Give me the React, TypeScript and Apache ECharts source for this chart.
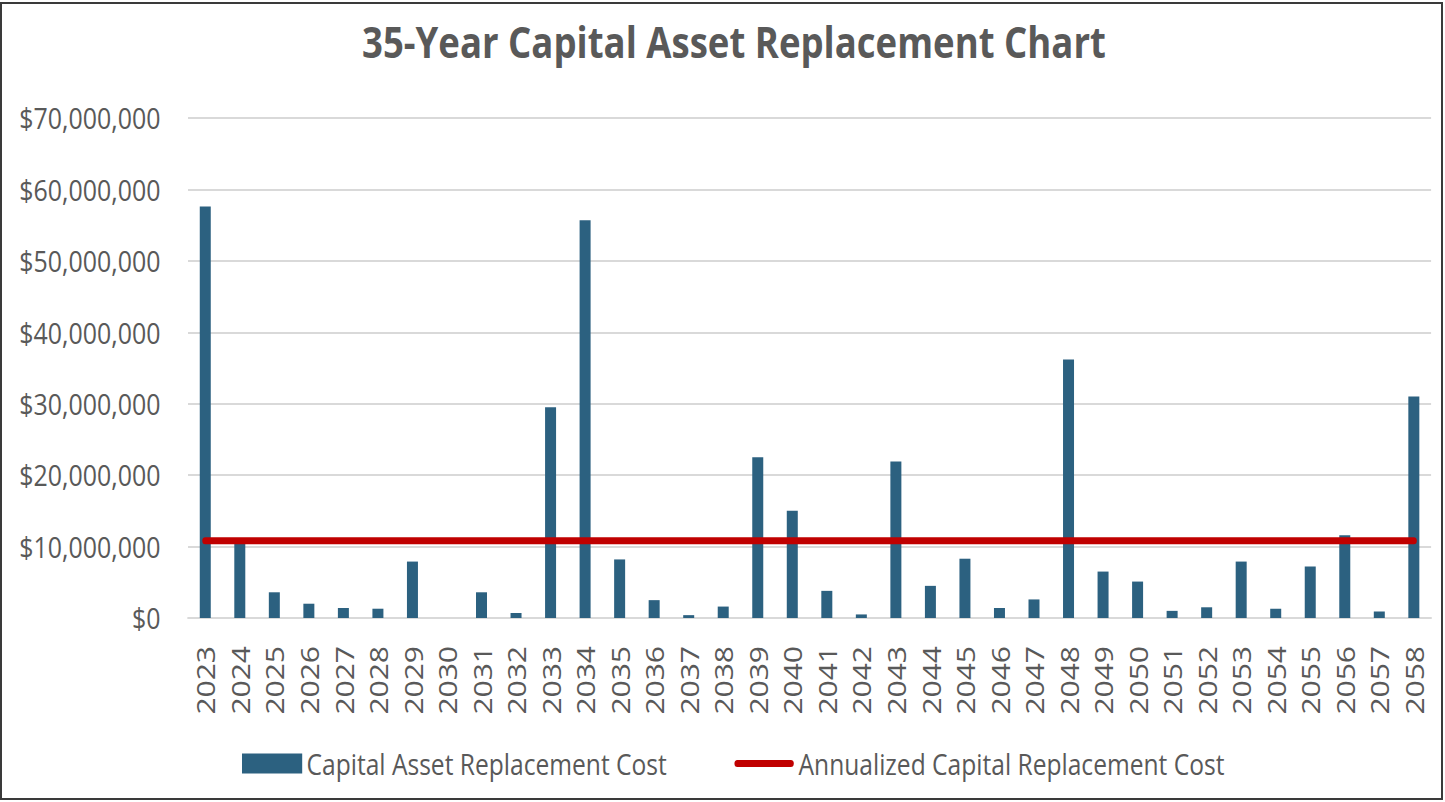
import React, { useEffect, useRef } from "react";
import * as echarts from "echarts";

const years = [
  "2023", "2024", "2025", "2026", "2027", "2028", "2029", "2030", "2031", "2032",
  "2033", "2034", "2035", "2036", "2037", "2038", "2039", "2040", "2041", "2042",
  "2043", "2044", "2045", "2046", "2047", "2048", "2049", "2050", "2051", "2052",
  "2053", "2054", "2055", "2056", "2057", "2058",
];

const replacementCost = [
  57600000, 11000000, 3600000, 2000000, 1400000, 1300000, 7900000, 0, 3600000, 700000,
  29500000, 55700000, 8200000, 2500000, 400000, 1600000, 22500000, 15000000, 3800000, 500000,
  21900000, 4500000, 8300000, 1400000, 2600000, 36200000, 6500000, 5100000, 1000000, 1500000,
  7900000, 1300000, 7200000, 11600000, 900000, 31000000,
];

const annualizedCost = [
  10800000, 10800000, 10800000, 10800000, 10800000, 10800000, 10800000, 10800000, 10800000, 10800000,
  10800000, 10800000, 10800000, 10800000, 10800000, 10800000, 10800000, 10800000, 10800000, 10800000,
  10800000, 10800000, 10800000, 10800000, 10800000, 10800000, 10800000, 10800000, 10800000, 10800000,
  10800000, 10800000, 10800000, 10800000, 10800000, 10800000,
];

const yTicks = { min: 0, max: 70000000, interval: 10000000 };

const TITLE = "35-Year Capital Asset Replacement Chart";
const SERIES_BAR = "Capital Asset Replacement Cost";
const SERIES_LINE = "Annualized Capital Replacement Cost";

const SX = 0.86; // horizontal compression of the reference
const W = 1445;
const H = 802;
const IW = W / SX;

// thick red line legend icon (70x20 box, line band in the middle, rounded ends)
const LINE_ICON =
  "path://M0,0 L0,0 M4,6.5 L66,6.5 A3.5,3.5 0 0 1 66,13.5 L4,13.5 A3.5,3.5 0 0 1 4,6.5 Z M70,20 L70,20";

export default function App() {
  const ref = useRef<HTMLDivElement>(null);

  useEffect(() => {
    document.body.style.margin = "0";
    if (!ref.current) return;
    const chart = echarts.init(ref.current, undefined, { renderer: "svg" });
    const font = "'Open Sans', 'DejaVu Sans', sans-serif";
    chart.setOption({
      animation: false,
      backgroundColor: "#ffffff",
      title: {
        text: TITLE,
        left: 362 / SX,
        top: 20,
        padding: 0,
        textStyle: {
          fontFamily: font,
          fontSize: 42.5,
          fontWeight: "bold",
          color: "#595959",
        },
      },
      legend: {
        left: 242 / SX,
        top: 749,
        padding: 0,
        itemWidth: 70,
        itemHeight: 20,
        itemGap: 78,
        textStyle: { fontFamily: font, fontSize: 28.6, color: "#595959" },
        data: [
          { name: SERIES_BAR, icon: "rect" },
          { name: SERIES_LINE, icon: LINE_ICON, itemStyle: { color: "#C00000", borderWidth: 0 } },
        ],
      },
      grid: {
        left: 188 / SX,
        right: W / SX - 1431.3 / SX,
        top: 118,
        bottom: H - 618,
      },
      xAxis: {
        type: "category",
        data: years,
        axisLine: { lineStyle: { color: "#d9d9d9", width: 2 } },
        axisTick: { show: false },
        axisLabel: {
          interval: 0,
          rotate: 90,
          fontFamily: font,
          fontSize: 30,
          color: "#595959",
          margin: 28,
        },
      },
      yAxis: {
        type: "value",
        min: yTicks.min,
        max: yTicks.max,
        interval: yTicks.interval,
        axisLine: { show: false },
        axisTick: { show: false },
        splitLine: { lineStyle: { color: "#d9d9d9", width: 2 } },
        axisLabel: {
          fontFamily: font,
          fontSize: 29,
          color: "#595959",
          margin: 32,
          formatter: (v: number) => "$" + v.toLocaleString("en-US"),
        },
      },
      series: [
        {
          name: SERIES_BAR,
          type: "bar",
          data: replacementCost,
          barWidth: 11 / SX,
          itemStyle: { color: "#2C6180" },
        },
        {
          name: SERIES_LINE,
          type: "line",
          data: annualizedCost,
          symbol: "none",
          lineStyle: { color: "#C00000", width: 7, cap: "round" },
          itemStyle: { color: "#C00000" },
          z: 5,
        },
      ],
    });
    return () => chart.dispose();
  }, []);

  return (
    <div style={{ position: "relative", width: W, height: H, overflow: "hidden", background: "#fff" }}>
      <div
        ref={ref}
        style={{
          position: "absolute",
          left: 0,
          top: 0,
          width: IW,
          height: H,
          transform: `scaleX(${SX})`,
          transformOrigin: "0 0",
        }}
      />
      <div
        style={{
          position: "absolute",
          left: 0,
          top: 2,
          width: 1443,
          height: 798,
          boxSizing: "border-box",
          border: "2px solid #3a3a3a",
          pointerEvents: "none",
        }}
      />
    </div>
  );
}
